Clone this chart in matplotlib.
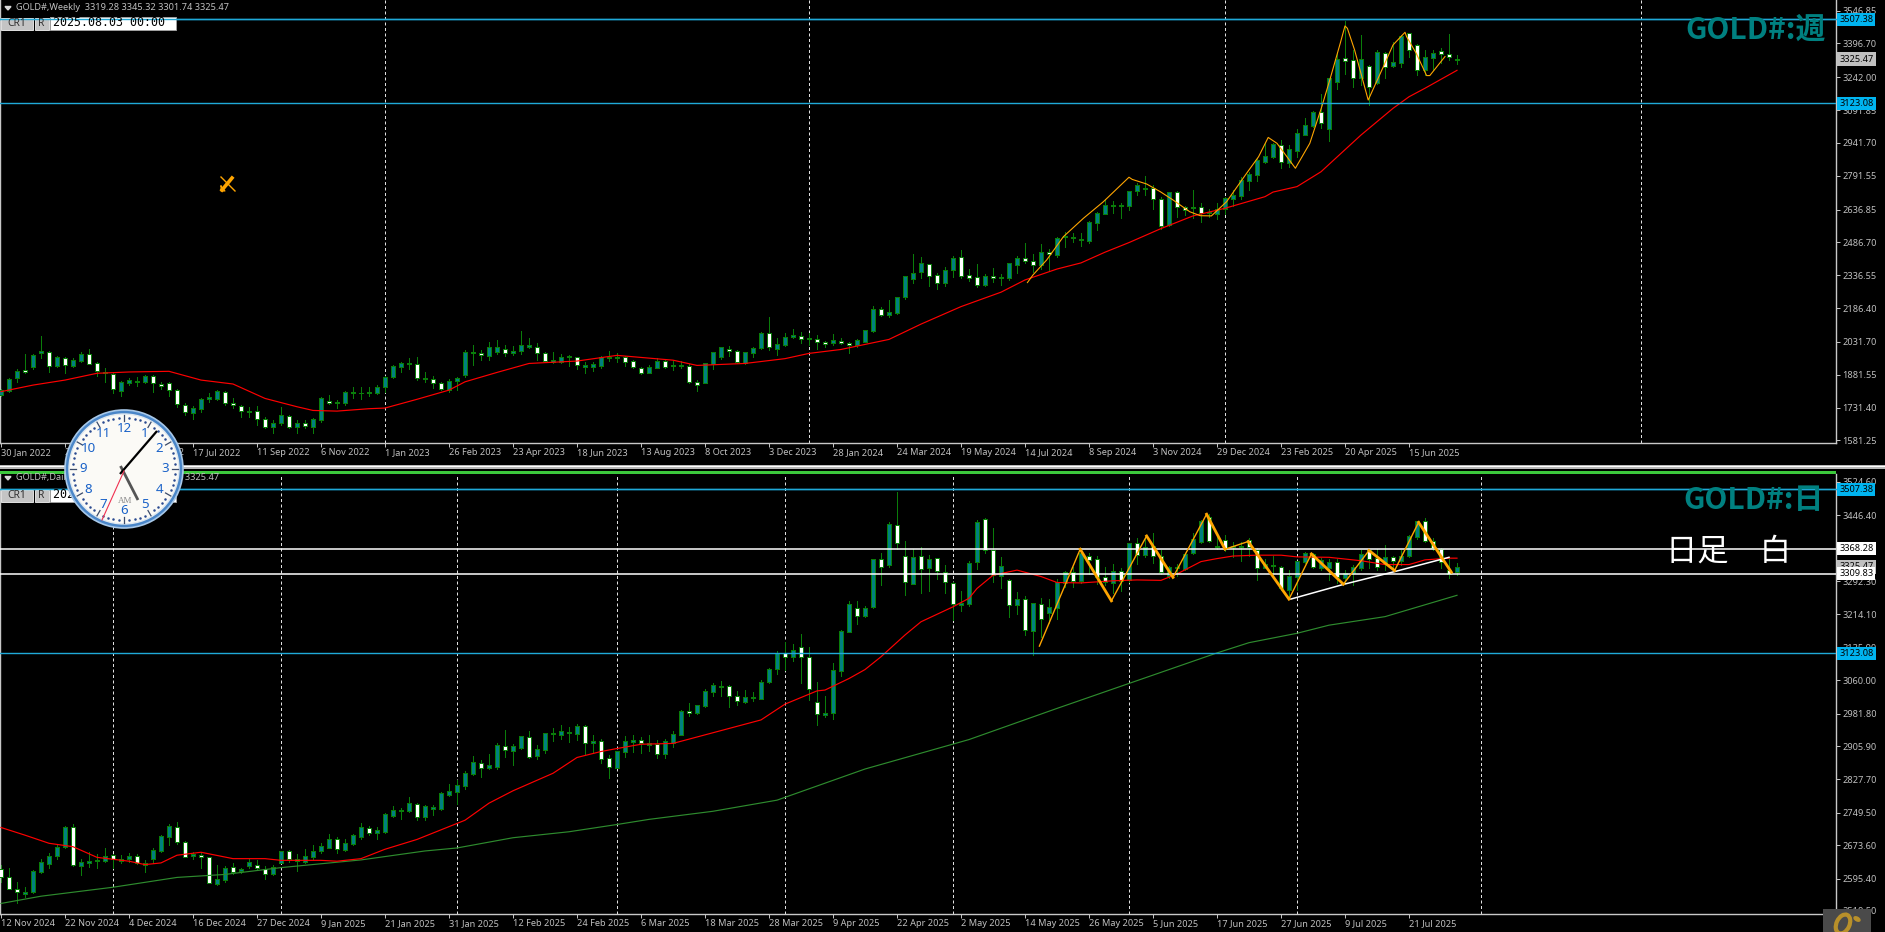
#!/usr/bin/python
# -*- encoding: utf-8 -*-
import numpy as np
import matplotlib
matplotlib.use('Agg')
import matplotlib.pyplot as plt
from matplotlib.patches import Rectangle, Circle, Ellipse
from matplotlib.transforms import blended_transform_factory

plt.rcParams['font.family'] = ['Noto Sans', 'DejaVu Sans']

# Weekly candles
week_open = [1788,1808,1865,1903,1918,1979,1984,1923,1959,1923,
1945,1974,1933,1895,1883,1808,1845,1850,1849,1874,
1837,1842,1813,1744,1708,1726,1769,1772,1804,1750,
1737,1712,1717,1677,1643,1662,1694,1643,1659,1643,
1674,1762,1750,1753,1797,1797,1797,1799,1826,1869,
1918,1929,1929,1860,1863,1842,1811,1854,1880,1979,
1979,1968,1987,1997,1983,1991,2010,2006,1979,1938,
1941,1962,1961,1919,1918,1923,1957,1957,1961,1942,
1913,1891,1913,1942,1921,1922,1923,1849,1845,1930,
1964,2000,1991,1933,1979,2005,2073,1999,2017,2052,
2060,2043,2046,2029,2025,2037,2025,2017,2032,2083,
2181,2155,2166,2239,2321,2353,2387,2336,2303,2361,
2419,2336,2327,2294,2332,2324,2326,2385,2414,2400,
2384,2445,2431,2510,2507,2499,2495,2577,2618,2653,
2654,2655,2720,2732,2734,2684,2566,2716,2650,2645,
2647,2621,2617,2638,2687,2701,2768,2795,2855,2877,
2934,2852,2905,2980,3019,3085,3007,3222,3329,3323,
3237,3292,3218,3352,3295,3309,3443,3388,3275,3332,
3361,3347,3319.28]
week_high = [1814,1868,1906,1976,1974,2058,1990,1967,1964,1956,
1987,1999,1941,1910,1888,1852,1865,1872,1880,1880,
1846,1849,1816,1750,1740,1773,1796,1811,1808,1773,
1743,1735,1738,1686,1674,1732,1697,1674,1674,1685,
1778,1788,1765,1807,1827,1827,1823,1834,1875,1926,
1941,1956,1961,1892,1875,1849,1860,1872,1994,2017,
1994,2032,2040,2017,2013,2081,2051,2025,1987,1987,
1976,1971,1964,1941,1941,1967,1990,1982,1967,1948,
1918,1926,1956,1948,1945,1945,1930,1857,1936,1987,
2010,2013,1994,1987,2006,2075,2144,2048,2074,2089,
2078,2074,2063,2037,2067,2048,2032,2043,2086,2196,
2190,2223,2239,2335,2434,2420,2390,2345,2376,2425,
2452,2365,2388,2342,2370,2342,2394,2423,2483,2434,
2480,2455,2510,2535,2528,2530,2586,2625,2684,2676,
2666,2724,2760,2791,2749,2693,2719,2722,2655,2726,
2666,2638,2669,2696,2726,2784,2810,2871,2940,2943,
2955,2932,3004,3057,3088,3166,3240,3359,3500,3367,
3436,3298,3367,3356,3405,3436,3446,3393,3367,3367,
3375,3440,3345.32]
week_low = [1785,1804,1849,1888,1906,1956,1895,1918,1891,1918,
1941,1929,1875,1849,1799,1785,1834,1830,1842,1804,
1816,1784,1735,1697,1680,1712,1758,1766,1743,1727,
1689,1689,1651,1636,1616,1651,1640,1616,1636,1616,
1666,1746,1727,1743,1773,1769,1784,1793,1804,1865,
1895,1906,1857,1849,1819,1811,1804,1811,1872,1926,
1949,1949,1975,1967,1971,1976,2002,1948,1941,1933,
1933,1923,1907,1891,1900,1910,1944,1941,1921,1910,
1884,1888,1910,1910,1903,1910,1845,1808,1842,1907,
1953,1967,1933,1930,1964,1999,1994,1971,2013,2048,
2025,2017,1999,2009,2017,2020,1982,2009,2029,2078,
2152,2147,2159,2228,2301,2323,2288,2274,2289,2330,
2326,2312,2283,2289,2306,2292,2317,2347,2394,2353,
2365,2361,2422,2466,2489,2471,2486,2544,2615,2623,
2599,2635,2704,2704,2640,2547,2562,2605,2612,2597,
2582,2601,2594,2617,2653,2684,2726,2769,2852,2871,
2829,2833,2879,2977,3013,3012,2952,3189,3257,3196,
3207,3115,3211,3237,3291,3291,3336,3253,3253,3275,
3306,3321,3301.74]
week_close = [1811,1862,1900,1894,1971,1988,1920,1961,1924,1948,
1976,1932,1897,1888,1814,1848,1857,1855,1875,1842,
1830,1811,1747,1709,1727,1769,1778,1807,1750,1743,
1715,1717,1677,1643,1662,1695,1643,1659,1645,1680,
1773,1750,1756,1802,1801,1800,1801,1823,1869,1921,
1933,1933,1865,1865,1842,1814,1855,1868,1987,1985,
1971,2006,2006,1982,1989,2017,2017,1979,1945,1947,
1961,1966,1926,1925,1930,1961,1961,1961,1941,1915,
1891,1915,1944,1918,1926,1926,1849,1833,1933,1984,
2006,1991,1938,1984,2002,2072,2006,2020,2052,2061,
2046,2048,2029,2020,2040,2025,2016,2040,2084,2180,
2156,2169,2236,2332,2345,2391,2335,2303,2359,2414,
2335,2326,2294,2332,2323,2329,2391,2414,2400,2385,
2442,2432,2506,2516,2511,2502,2579,2620,2657,2656,
2658,2721,2748,2735,2684,2563,2716,2647,2635,2648,
2623,2626,2638,2688,2702,2771,2800,2865,2882,2937,
2856,2914,2986,3024,3083,3035,3237,3324,3315,3237,
3324,3199,3356,3288,3311,3431,3366,3274,3333,3352,
3347,3333,3325.47]

# Daily candles
day_open = [2617,2598,2572,2560,2564,2611,2629,2649,2670,2715,
2624,2632,2636,2637,2651,2637,2642,2649,2628,2642,
2660,2693,2717,2680,2648,2651,2645,2583,2593,2623,
2613,2624,2626,2617,2606,2632,2659,2640,2634,2645,
2660,2668,2689,2662,2676,2693,2713,2701,2704,2742,
2754,2754,2769,2740,2759,2758,2791,2799,2813,2841,
2865,2855,2857,2907,2895,2902,2926,2882,2897,2933,
2932,2936,2934,2953,2914,2917,2877,2855,2892,2916,
2919,2909,2910,2888,2914,2932,2989,2984,2999,3032,
3047,3046,3022,3010,3018,3017,3057,3086,3123,3114,
3139,3114,3008,2979,2983,3082,3174,3229,3211,3231,
3343,3331,3423,3350,3286,3350,3324,3346,3314,3287,
3237,3239,3336,3437,3366,3305,3296,3237,3250,3176,
3239,3218,3230,3287,3314,3293,3351,3343,3301,3287,
3317,3296,3382,3353,3374,3352,3304,3323,3321,3357,
3385,3443,3371,3389,3371,3371,3389,3365,3324,3331,
3326,3271,3303,3338,3356,3324,3322,3338,3300,3312,
3322,3364,3346,3334,3348,3340,3350,3396,3432,3387,
3367,3318,3313.33]
day_high = [2626,2619,2588,2576,2615,2640,2656,2674,2718,2723,
2642,2658,2653,2666,2653,2650,2656,2653,2639,2666,
2697,2723,2728,2684,2658,2658,2646,2627,2624,2632,
2621,2640,2639,2624,2627,2660,2662,2654,2664,2674,
2678,2699,2693,2689,2699,2726,2718,2717,2748,2765,
2760,2787,2772,2768,2768,2797,2817,2826,2847,2882,
2873,2887,2912,2943,2911,2930,2941,2908,2937,2947,
2955,2950,2957,2954,2932,2922,2885,2895,2929,2932,
2926,2932,2920,2922,2941,2990,3007,3002,3039,3053,
3058,3048,3034,3037,3032,3060,3088,3129,3150,3145,
3168,3139,3056,3023,3100,3178,3246,3246,3234,3344,
3358,3431,3501,3386,3368,3371,3353,3347,3330,3290,
3269,3339,3435,3439,3417,3348,3297,3267,3257,3241,
3253,3250,3297,3316,3326,3369,3357,3351,3325,3332,
3322,3382,3393,3393,3404,3365,3328,3332,3357,3404,
3435,3450,3400,3400,3385,3385,3393,3369,3343,3351,
3328,3318,3340,3361,3359,3346,3343,3343,3318,3330,
3365,3367,3367,3377,3351,3365,3400,3434,3439,3393,
3369,3346,3334.43]
day_low = [2588,2570,2537,2551,2562,2609,2619,2642,2666,2624,
2603,2623,2619,2635,2619,2631,2635,2629,2611,2631,
2658,2674,2676,2645,2640,2621,2584,2580,2588,2607,
2609,2619,2617,2594,2603,2631,2635,2614,2632,2642,
2656,2666,2656,2660,2674,2689,2697,2687,2703,2740,
2735,2752,2732,2732,2744,2756,2789,2770,2805,2838,
2834,2852,2852,2880,2861,2899,2877,2876,2890,2918,
2922,2915,2920,2887,2889,2867,2831,2854,2881,2892,
2890,2895,2878,2878,2904,2931,2977,2982,2997,3022,
3023,2998,3002,3007,3011,3015,3054,3075,3084,3104,
3054,3014,2955,2975,2970,3070,3173,3192,3209,3229,
3283,3326,3367,3260,3285,3265,3268,3297,3264,3201,
3223,3234,3321,3359,3289,3275,3207,3215,3166,3119,
3162,3193,3203,3279,3279,3287,3310,3285,3283,3265,
3270,3291,3332,3348,3334,3309,3299,3304,3318,3356,
3382,3385,3367,3363,3348,3340,3350,3295,3322,3310,
3271,3257,3271,3334,3322,3318,3295,3287,3287,3283,
3318,3322,3318,3318,3318,3330,3348,3392,3385,3365,
3322,3300,3306.13]
day_close = [2598,2572,2565,2565,2613,2633,2649,2670,2716,2626,
2633,2636,2638,2648,2640,2642,2649,2632,2631,2662,
2695,2718,2680,2646,2653,2646,2586,2594,2621,2611,
2617,2634,2621,2605,2623,2659,2640,2636,2649,2660,
2671,2689,2664,2678,2697,2716,2701,2709,2746,2756,
2756,2772,2740,2765,2762,2795,2800,2815,2843,2868,
2855,2861,2908,2897,2906,2929,2881,2899,2936,2936,
2941,2939,2953,2914,2918,2876,2857,2894,2918,2920,
2912,2912,2888,2917,2933,2989,2984,3001,3034,3048,
3043,3022,3012,3020,3021,3057,3086,3123,3114,3132,
3114,3039,2982,2983,3083,3175,3238,3210,3229,3343,
3326,3426,3381,3289,3348,3320,3343,3317,3289,3238,
3241,3334,3431,3364,3307,3327,3236,3250,3177,3240,
3203,3231,3289,3314,3293,3357,3341,3301,3289,3317,
3293,3381,3353,3371,3352,3313,3325,3326,3356,3392,
3434,3386,3374,3367,3374,3374,3371,3322,3332,3327,
3275,3304,3339,3357,3326,3342,3338,3303,3312,3325,
3356,3343,3325,3348,3339,3351,3398,3432,3387,3369,
3338,3310,3325.47]

# Moving averages, read at selected bars
week_ma_x = [0,4,8,12,16,21,25,29,33,37,39,42,46,48,52,56,58,62,66,72,77,84,87,93,98,101,105,111,115,120,125,128,132,135,138,141,145,149,153,158,159,162,165,170,174,176,178,182]
week_ma_y = [1804,1834,1857,1888,1894,1897,1857,1839,1773,1735,1718,1715,1726,1729,1769,1811,1849,1892,1933,1944,1970,1948,1924,1933,1955,1979,1997,2043,2113,2193,2259,2315,2365,2393,2442,2486,2550,2608,2643,2696,2717,2742,2810,2978,3100,3153,3192,3274]
day_ma_x = [0,3,6,9,12,16,18,20,22,25,29,33,35,40,42,45,48,52,56,58,61,64,69,72,75,77,80,84,88,93,95,98,102,103,106,108,110,113,115,119,121,122,124,127,130,132,135,139,142,145,147,150,152,154,157,160,162,166,168,170,173,176,178,181,182]
day_ma_y = [2715,2697,2678,2670,2645,2636,2628,2632,2650,2657,2642,2642,2638,2638,2636,2642,2664,2687,2717,2732,2772,2801,2842,2879,2893,2900,2910,2912,2932,2957,2967,3004,3035,3037,3064,3085,3115,3166,3197,3232,3252,3275,3306,3318,3303,3289,3288,3293,3295,3294,3309,3338,3345,3351,3353,3353,3349,3348,3344,3340,3331,3331,3342,3346,3346]
day_slow_x = [0,5,14,22,28,35,45,53,57,64,71,77,81,89,97,108,121,132,146,152,156,162,166,173,182]
day_slow_y = [2537,2554,2575,2598,2605,2621,2639,2660,2667,2691,2705,2722,2734,2753,2779,2852,2921,2994,3085,3124,3148,3170,3189,3209,3259]

# Zigzag lines
week_zig_x = [128.3,129,130.7,132.8,135.3,137.8,141,141.4,143.2,144.9,146.5,148.6,149.9,151.3,153.2,155.7,157.2,158.4,159.5,161.8,163.6,165.1,166.1,167.4,168,168.3,169.2,170.9,172.8,174,175.5,175.7,176.9,178.2,178.6,180.5]
week_zig_y = [2303,2338,2406,2513,2597,2673,2785,2775,2754,2719,2681,2627,2609,2608,2673,2803,2879,2967,2940,2826,2940,3108,3230,3397,3477,3466,3367,3138,3291,3390,3448,3428,3352,3250,3250,3337]
day_zig_x = [129.8,134.9,138.8,143.2,146.5,150.7,153,155.9,161,163.8,167.8,171,174.2,177.2,181.3]
day_zig_y = [3140,3367,3246,3398,3301,3449,3367,3385,3250,3356,3285,3364,3317,3430,3313]
day_trend_x = [161.2,167.9,174.1,181]
day_trend_y = [3250,3285,3314,3348]

# Axis labels
week_yticks = [3546.85,3396.70,3242.00,3091.85,2941.70,2791.55,2636.85,2486.70,2336.55,2186.40,2031.70,1881.55,1731.40,1581.25]
day_yticks = [3524.60,3446.40,3292.30,3214.10,3135.90,3060.00,2981.80,2905.90,2827.70,2749.50,2673.60,2595.40,2519.50]
week_dates = ['30 Jan 2022','27 Mar 2022','22 May 2022','17 Jul 2022','11 Sep 2022','6 Nov 2022','1 Jan 2023','26 Feb 2023','23 Apr 2023','18 Jun 2023','13 Aug 2023','8 Oct 2023','3 Dec 2023','28 Jan 2024','24 Mar 2024','19 May 2024','14 Jul 2024','8 Sep 2024','3 Nov 2024','29 Dec 2024','23 Feb 2025','20 Apr 2025','15 Jun 2025']
day_dates = ['12 Nov 2024','22 Nov 2024','4 Dec 2024','16 Dec 2024','27 Dec 2024','9 Jan 2025','21 Jan 2025','31 Jan 2025','12 Feb 2025','24 Feb 2025','6 Mar 2025','18 Mar 2025','28 Mar 2025','9 Apr 2025','22 Apr 2025','2 May 2025','14 May 2025','26 May 2025','5 Jun 2025','17 Jun 2025','27 Jun 2025','9 Jul 2025','21 Jul 2025']

# Period separators, as bar numbers
week_seps = [48,101,153,205]
day_seps = [14,35,57,77,98,119,141,162,185]

# Levels
cyan_levels = [3507.38,3123.08]
white_levels = [3368.28,3309.83]
last_price = 3325.47

W, H = 1885, 932
BAR_PX = 8.0
CYAN = '#1fa9d8'
TAG = '#00b4f0'
GREY = '#c0c0c0'
GREEN = '#0a7d0a'
TEAL = '#008080'
ORANGE = '#ffa500'

fig = plt.figure(figsize=(W/100, H/100), dpi=100, facecolor='black')


def pane(top, bottom, p_top, p_bottom):
    ax = fig.add_axes([0, 1-bottom/H, 1836/W, (bottom-top)/H], facecolor='black')
    ax.set_xlim(-1/BAR_PX, (1836-1)/BAR_PX)
    ax.set_ylim(p_bottom, p_top)
    ax.spines['top'].set_visible(False)
    for s in ['left', 'right', 'bottom']:
        ax.spines[s].set_color('#c8c8c8')
        ax.spines[s].set_linewidth(1.0)
    ax.yaxis.tick_right()
    ax.tick_params(axis='y', colors=GREY, length=3, width=0.72, labelsize=6.6, pad=1.5)
    ax.tick_params(axis='x', colors=GREY, length=3, width=0.72, labelsize=6.6, pad=0.5)
    return ax


def candles(ax, o, h, l, c):
    o, h, l, c = map(np.array, (o, h, l, c))
    x = np.arange(len(o))
    ax.vlines(x, l, h, color=GREEN, lw=0.72, zorder=2, antialiased=False)
    bottoms = np.minimum(o, c)
    heights = np.abs(c-o)
    colors = [TEAL if cc >= oo else 'white' for oo, cc in zip(o, c)]
    ax.bar(x, heights, 4.4/BAR_PX, bottoms, color=colors, edgecolor=GREEN, linewidth=0.72, zorder=3, antialiased=False)


def xticks(ax, labels):
    ax.set_xticks(np.arange(len(labels))*8)
    ax.set_xticklabels(labels, ha='left')


def ylabels(ax, ticks):
    ax.set_yticks(ticks)
    ax.set_yticklabels(['%.2f' % t for t in ticks])


def tag(ax, price, face):
    trans = blended_transform_factory(ax.transAxes, ax.transData)
    ax.text(1.0017, price, '%.2f' % price, transform=trans, color='black', fontsize=6.6, va='center', ha='left',
            bbox=dict(facecolor=face, edgecolor='none', pad=1.6), zorder=5, clip_on=False)


# Weekly pane
ax1 = pane(0, 443, 3595.7, 1569.1)
for s in week_seps:
    ax1.axvline(s, color='#e0e0e0', lw=0.72, ls=(0, (3, 2.5)), zorder=1)
for lv in cyan_levels:
    ax1.axhline(lv, color=CYAN, lw=1.0, zorder=6)
candles(ax1, week_open, week_high, week_low, week_close)
ax1.plot(week_ma_x, week_ma_y, color='#ff0000', lw=0.85, zorder=4)
ax1.plot(week_zig_x, week_zig_y, color=ORANGE, lw=0.8, zorder=5)
xticks(ax1, week_dates)
ylabels(ax1, week_yticks)
for lv in cyan_levels:
    tag(ax1, lv, TAG)
tag(ax1, last_price, GREY)

# Daily pane
ax2 = pane(474, 914, 3543.2, 2512.3)
for s in day_seps:
    ax2.axvline(s, color='#e0e0e0', lw=0.72, ls=(0, (3, 2.5)), zorder=1)
for lv in cyan_levels:
    ax2.axhline(lv, color=CYAN, lw=1.0, zorder=6)
for lv in white_levels:
    ax2.axhline(lv, color='white', lw=1.1, zorder=6)
candles(ax2, day_open, day_high, day_low, day_close)
ax2.plot(day_slow_x, day_slow_y, color='#2e8b2e', lw=0.85, zorder=4)
ax2.plot(day_ma_x, day_ma_y, color='#ff0000', lw=0.85, zorder=4)
ax2.plot(day_trend_x, day_trend_y, color='white', lw=1.1, zorder=7)
for i in range(len(day_zig_x)-1):
    down = day_zig_y[i+1] < day_zig_y[i]
    ax2.plot(day_zig_x[i:i+2], day_zig_y[i:i+2], color=ORANGE, lw=2.0 if down else 1.0, zorder=7)
xticks(ax2, day_dates)
ylabels(ax2, day_yticks)
tag(ax2, last_price, GREY)
for lv in cyan_levels:
    tag(ax2, lv, TAG)
for lv in white_levels:
    tag(ax2, lv, 'white')

# Everything else in screen pixels
ov = fig.add_axes([0, 0, 1, 1], zorder=10)
ov.set_xlim(0, W)
ov.set_ylim(H, 0)
ov.axis('off')
ov.patch.set_alpha(0)

# pane separators
ov.add_patch(Rectangle((0, 464.5), W, 4, facecolor='#b8b8b8', edgecolor='none'))
ov.add_patch(Rectangle((0, 465.5), W, 1.6, facecolor='white', edgecolor='none'))
ov.add_patch(Rectangle((0, 470.5), 1836, 3.6, facecolor='#3cc83c', edgecolor='none'))

cjk = ['Noto Sans CJK JP', 'DejaVu Sans']
ov.text(1826, 30, 'GOLD#:週', color='#008080', fontsize=21.5, fontweight='bold', ha='right', va='center', family=cjk)
ov.text(1824, 500, 'GOLD#:日', color='#008080', fontsize=21.5, fontweight='bold', ha='right', va='center', family=cjk)
ov.text(1666, 552, '日足　白', color='white', fontsize=22.5, ha='left', va='center', family=cjk)


def header(y, name, o, h, l, c):
    ov.fill([5, 11, 8], [y-1.5, y-1.5, y+2], color='#d8d8d8')
    ov.text(16, y, '%s  %.2f %.2f %.2f %.2f' % (name, o, h, l, c), color=GREY, fontsize=6.6, va='center')


def buttons(y):
    ov.add_patch(Rectangle((1, y), 32, 12, facecolor='#c4c4c4', edgecolor='#e0e0e0', lw=0.7))
    ov.add_patch(Rectangle((34.5, y), 14.5, 12, facecolor='#c4c4c4', edgecolor='#e0e0e0', lw=0.7))
    ov.add_patch(Rectangle((50, y-1), 126, 13, facecolor='white', edgecolor='#a0a0a0', lw=0.7))
    ov.text(17, y+6, 'CR1', color='#303030', fontsize=7.4, ha='center', va='center')
    ov.text(41.5, y+6, 'R', color='#303030', fontsize=7.4, ha='center', va='center')
    ov.text(53, y+5, '2025.08.03 00:00', color='black', fontsize=8.4, va='center', family='DejaVu Sans Mono')


header(8, 'GOLD#,Weekly', week_open[-1], week_high[-1], week_low[-1], week_close[-1])
buttons(18)
ov.plot([0, 1836], [19.3, 19.3], color=CYAN, lw=1.0)
header(478, 'GOLD#,Daily', day_open[-1], day_high[-1], day_low[-1], day_close[-1])
buttons(489.5)
ov.plot([0, 1836], [489.3, 489.3], color=CYAN, lw=1.0)

# small orange tool icon
ov.plot([221, 235], [177, 191], color=ORANGE, lw=1.0)
ov.plot([222, 232], [190, 178], color=ORANGE, lw=2.6)
ov.plot([221, 221, 225, 221], [186, 191, 191, 186], color=ORANGE, lw=0.8)

# analog clock, drawn on top of the panes
cx, cy = 124, 469
ov.add_patch(Circle((cx, cy), 59, facecolor='#4a86c8', edgecolor='#a8c8e8', lw=1.2, zorder=20))
ov.add_patch(Circle((cx, cy), 55, facecolor='#fbfaf6', edgecolor='#dfe8f0', lw=1.0, zorder=21))
for m in range(60):
    a = np.deg2rad(m*6)
    sx, sy = np.sin(a), -np.cos(a)
    if m % 5 == 0:
        ov.plot([cx+48*sx, cx+54*sx], [cy+48*sy, cy+54*sy], color='#3a4a6a', lw=0.9, zorder=22)
    else:
        ov.plot(cx+51*sx, cy+51*sy, '.', color='#2a4a90', ms=1.6, zorder=22)
for n in range(1, 13):
    a = np.deg2rad(n*30)
    ov.text(cx+41*np.sin(a), cy-41*np.cos(a), str(n), color='#1a62c8', fontsize=9.6, fontweight='bold',
            ha='center', va='center', zorder=23)
ov.text(cx+1, cy+32, 'AM', color='#8a8a8a', fontsize=6.5, ha='center', va='center', family='Liberation Serif', zorder=23)
ov.plot([120.5, 138], [466, 500], color='#555555', lw=2.0, solid_capstyle='butt', zorder=24)
ov.plot([120, 157], [474, 431], color='black', lw=1.6, solid_capstyle='butt', zorder=25)
ov.plot([124, 102], [471, 520], color='#f03050', lw=0.8, zorder=26)

# logo corner
ov.add_patch(Rectangle((1823, 909), 48, 23, facecolor='#4a4a4a', edgecolor='none'))
ov.add_patch(Ellipse((1843, 924), 13, 20, angle=25, facecolor='none', edgecolor='#b8902a', lw=3))
ov.add_patch(Ellipse((1857, 919), 8, 5, angle=30, facecolor='#b8902a', edgecolor='none'))

fig.savefig('out.png', dpi=100, facecolor='black')
